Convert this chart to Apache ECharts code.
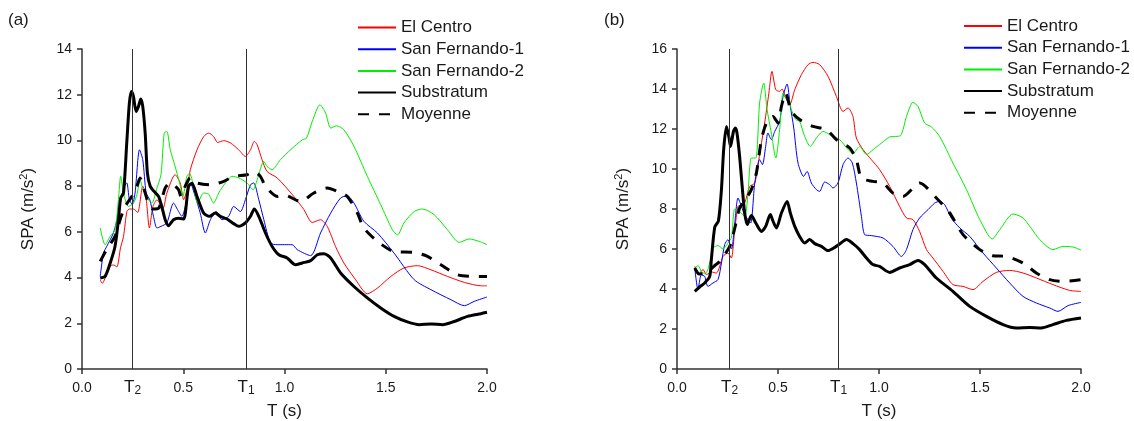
<!DOCTYPE html>
<html>
<head>
<meta charset="utf-8">
<script src="https://cdn.jsdelivr.net/npm/echarts@6/dist/echarts.min.js"></script>
<style>
html,body{margin:0;padding:0;background:#fff;}
#chart{width:1134px;height:421px;}
</style>
</head>
<body>
<div id="chart"></div>
<script>
// ---------- Data (T in s, SPA in m/s²) ----------
const seriesNames = ['El Centro', 'San Fernando-1', 'San Fernando-2', 'Substratum', 'Moyenne'];
const xTicks = ['0.0', '0.5', '1.0', '1.5', '2.0'];
const periodsA = { T2: 0.251, T1: 0.81 };
const periodsB = { T2: 0.261, T1: 0.80 };

// Panel (a)
const a_elCentro = [[0.09,3.9],[0.10,3.75],[0.12,4.1],[0.14,4.5],[0.155,4.55],[0.172,4.47],[0.19,5.3],[0.205,5.8],[0.222,6.9],[0.235,7.0],[0.254,7.0],[0.275,6.85],[0.30,8.0],[0.315,7.6],[0.333,6.17],[0.35,7.1],[0.37,7.4],[0.40,7.04],[0.419,7.7],[0.46,8.5],[0.485,8.14],[0.502,7.41],[0.518,7.84],[0.535,8.72],[0.568,9.59],[0.601,10.17],[0.625,10.32],[0.65,10.17],[0.67,9.91],[0.70,9.99],[0.733,9.89],[0.774,9.59],[0.807,9.3],[0.832,9.59],[0.851,9.96],[0.865,9.81],[0.889,9.16],[0.914,8.64],[0.964,8.36],[1.046,7.55],[1.096,6.97],[1.137,6.41],[1.178,6.53],[1.211,6.24],[1.252,5.36],[1.293,4.64],[1.351,3.91],[1.409,3.29],[1.459,3.54],[1.525,4.05],[1.59,4.42],[1.657,4.52],[1.723,4.34],[1.805,4.05],[1.888,3.79],[1.97,3.64],[2.0,3.64]];
const a_sanFernando1 = [[0.09,4.05],[0.106,5.07],[0.122,5.36],[0.155,5.95],[0.18,6.82],[0.205,7.92],[0.221,8.14],[0.234,7.41],[0.248,7.2],[0.262,7.7],[0.284,9.59],[0.30,9.16],[0.317,7.7],[0.335,7.4],[0.353,6.68],[0.37,6.17],[0.39,6.24],[0.419,6.39],[0.452,7.26],[0.472,6.97],[0.493,6.68],[0.518,7.41],[0.535,8.14],[0.559,7.55],[0.584,6.82],[0.609,5.95],[0.634,6.53],[0.663,6.89],[0.691,6.53],[0.724,6.68],[0.749,7.11],[0.782,6.89],[0.807,7.41],[0.832,8.06],[0.848,8.14],[0.873,7.41],[0.898,6.53],[0.931,5.51],[0.964,5.44],[1.0,5.44],[1.038,5.44],[1.063,5.22],[1.129,4.96],[1.178,5.95],[1.228,6.82],[1.277,7.48],[1.31,7.58],[1.343,7.26],[1.392,6.46],[1.459,5.95],[1.541,5.07],[1.64,3.91],[1.723,3.47],[1.822,3.03],[1.888,2.77],[1.937,2.96],[2.0,3.15]];
const a_sanFernando2 = [[0.09,6.17],[0.114,5.44],[0.139,5.8],[0.163,6.09],[0.18,7.41],[0.191,8.43],[0.205,7.7],[0.229,7.11],[0.254,7.26],[0.271,7.62],[0.287,8.28],[0.30,7.9],[0.328,7.41],[0.345,7.26],[0.37,7.92],[0.39,8.5],[0.406,10.32],[0.419,10.39],[0.436,9.59],[0.46,8.86],[0.482,8.14],[0.498,7.55],[0.518,8.43],[0.531,8.57],[0.551,7.99],[0.571,7.26],[0.601,7.7],[0.625,7.65],[0.65,7.26],[0.675,7.7],[0.708,8.14],[0.741,8.43],[0.774,8.36],[0.815,8.14],[0.845,7.84],[0.865,8.28],[0.898,9.08],[0.914,8.86],[0.939,8.72],[0.98,9.16],[1.03,9.59],[1.088,10.03],[1.109,10.1],[1.137,10.83],[1.175,11.56],[1.203,11.2],[1.228,10.54],[1.257,10.64],[1.293,10.47],[1.343,9.74],[1.409,8.43],[1.475,7.19],[1.533,6.09],[1.558,5.87],[1.59,6.39],[1.64,6.89],[1.681,7.0],[1.739,6.75],[1.805,6.09],[1.863,5.54],[1.912,5.69],[1.962,5.58],[2.0,5.44]];
const a_substratum = [[0.09,3.98],[0.114,4.05],[0.139,4.63],[0.163,5.36],[0.18,6.53],[0.191,7.48],[0.205,7.7],[0.221,9.89],[0.234,11.64],[0.244,12.14],[0.254,11.93],[0.267,11.27],[0.279,11.49],[0.29,11.81],[0.30,11.49],[0.312,10.32],[0.323,8.57],[0.337,7.99],[0.356,7.77],[0.378,7.55],[0.394,7.11],[0.411,6.53],[0.427,6.27],[0.452,6.53],[0.477,6.6],[0.502,6.56],[0.526,7.99],[0.543,8.13],[0.568,7.55],[0.601,6.82],[0.63,6.68],[0.658,6.82],[0.683,6.68],[0.716,6.56],[0.749,6.36],[0.774,6.24],[0.807,6.39],[0.832,6.68],[0.851,7.0],[0.873,6.68],[0.906,5.95],[0.939,5.36],[0.972,5.0],[1.013,4.86],[1.054,4.56],[1.088,4.64],[1.129,4.74],[1.162,5.0],[1.195,5.04],[1.228,4.86],[1.277,4.2],[1.343,3.61],[1.409,3.11],[1.475,2.67],[1.541,2.3],[1.607,2.06],[1.665,1.94],[1.723,1.97],[1.781,1.94],[1.838,2.08],[1.904,2.3],[1.97,2.42],[2.0,2.48]];
const a_moyenne = [[0.09,4.71],[0.12,5.2],[0.163,5.8],[0.188,6.53],[0.213,7.11],[0.246,7.55],[0.271,7.99],[0.287,8.36],[0.305,7.9],[0.328,7.26],[0.35,7.0],[0.38,7.05],[0.411,7.92],[0.436,8.14],[0.46,8.0],[0.477,7.84],[0.489,7.55],[0.51,8.0],[0.535,8.36],[0.568,8.14],[0.634,8.06],[0.70,8.21],[0.749,8.43],[0.815,8.5],[0.848,8.64],[0.881,8.43],[0.906,7.99],[0.964,7.55],[0.997,7.62],[1.079,7.33],[1.145,7.7],[1.211,7.92],[1.261,7.77],[1.31,7.55],[1.36,6.82],[1.392,6.17],[1.459,5.58],[1.541,5.14],[1.64,5.1],[1.706,4.93],[1.772,4.56],[1.855,4.12],[1.937,4.05],[2.0,4.05]];

// Panel (b)
const b_elCentro = [[0.088,5.13],[0.104,4.72],[0.129,4.97],[0.146,4.72],[0.17,4.85],[0.195,4.8],[0.228,5.63],[0.252,5.8],[0.269,5.55],[0.286,6.97],[0.302,8.13],[0.318,8.2],[0.335,8.3],[0.36,9.13],[0.385,9.3],[0.41,10.8],[0.434,12.3],[0.455,13.8],[0.47,14.88],[0.489,13.97],[0.508,13.88],[0.52,14.0],[0.538,13.55],[0.558,13.22],[0.583,13.97],[0.616,14.72],[0.649,15.22],[0.673,15.33],[0.706,15.22],[0.748,14.63],[0.789,13.63],[0.822,12.88],[0.847,13.05],[0.871,12.63],[0.888,11.55],[0.921,10.97],[0.962,10.47],[1.003,9.97],[1.053,9.13],[1.102,8.13],[1.136,7.55],[1.168,7.47],[1.201,6.88],[1.235,5.97],[1.267,5.55],[1.317,4.88],[1.366,4.22],[1.416,4.13],[1.465,3.97],[1.515,4.38],[1.581,4.83],[1.647,4.93],[1.713,4.8],[1.779,4.55],[1.861,4.22],[1.944,3.93],[2.0,3.88]];
const b_sanFernando1 = [[0.088,5.05],[0.104,3.97],[0.12,4.7],[0.137,4.63],[0.153,4.13],[0.178,4.3],[0.203,4.47],[0.22,5.3],[0.236,6.22],[0.252,6.47],[0.27,6.0],[0.285,7.2],[0.302,8.55],[0.319,8.13],[0.335,7.7],[0.351,7.47],[0.365,7.3],[0.385,9.3],[0.409,10.47],[0.423,10.22],[0.439,11.13],[0.45,11.8],[0.467,11.47],[0.484,11.88],[0.508,12.38],[0.525,13.63],[0.545,14.25],[0.56,13.2],[0.578,12.05],[0.599,10.3],[0.627,9.63],[0.644,9.88],[0.665,9.3],[0.69,8.97],[0.706,8.88],[0.731,9.35],[0.756,9.22],[0.772,9.05],[0.797,9.3],[0.822,10.22],[0.847,10.55],[0.868,10.3],[0.888,9.3],[0.913,7.63],[0.929,6.72],[0.962,6.67],[1.02,6.55],[1.069,6.13],[1.111,5.63],[1.136,5.97],[1.168,6.97],[1.201,7.55],[1.243,7.97],[1.276,8.3],[1.30,8.38],[1.325,8.22],[1.358,7.55],[1.40,7.05],[1.449,6.63],[1.515,5.8],[1.581,5.05],[1.647,4.3],[1.713,3.63],[1.779,3.3],[1.845,3.05],[1.886,2.88],[1.936,3.17],[2.0,3.33]];
const b_sanFernando2 = [[0.088,5.05],[0.104,5.17],[0.121,4.88],[0.14,4.75],[0.162,5.3],[0.178,6.05],[0.203,6.17],[0.228,6.0],[0.252,6.3],[0.27,6.6],[0.286,8.0],[0.31,7.88],[0.335,7.63],[0.35,8.6],[0.368,10.55],[0.39,10.55],[0.409,13.3],[0.429,14.3],[0.446,12.97],[0.467,11.8],[0.489,10.55],[0.508,11.97],[0.525,13.8],[0.538,13.55],[0.55,13.6],[0.566,12.97],[0.588,12.47],[0.607,12.38],[0.632,11.63],[0.66,11.13],[0.69,11.55],[0.723,11.88],[0.764,11.67],[0.805,11.47],[0.847,10.97],[0.871,10.77],[0.904,11.13],[0.938,10.72],[0.971,10.97],[1.003,11.22],[1.053,11.6],[1.106,11.67],[1.136,12.63],[1.168,13.33],[1.193,13.13],[1.226,12.3],[1.26,12.1],[1.30,11.63],[1.366,10.3],[1.433,8.97],[1.499,7.47],[1.561,6.5],[1.598,6.97],[1.663,7.75],[1.713,7.55],[1.796,6.47],[1.861,5.97],[1.911,6.13],[1.96,6.1],[2.0,5.95]];
const b_substratum = [[0.088,3.88],[0.112,4.1],[0.137,4.3],[0.162,4.63],[0.17,5.47],[0.187,7.1],[0.205,7.4],[0.22,8.97],[0.231,10.97],[0.245,12.13],[0.257,11.6],[0.265,11.13],[0.28,11.9],[0.289,12.05],[0.297,11.8],[0.31,10.63],[0.324,8.97],[0.335,7.8],[0.348,7.22],[0.368,7.67],[0.39,7.3],[0.418,6.88],[0.439,7.13],[0.462,7.72],[0.475,7.4],[0.492,7.05],[0.517,7.8],[0.545,8.38],[0.561,7.8],[0.583,7.13],[0.607,6.63],[0.632,6.3],[0.657,6.47],[0.682,6.27],[0.715,6.13],[0.748,5.92],[0.781,6.08],[0.805,6.25],[0.839,6.47],[0.871,6.27],[0.904,5.97],[0.938,5.55],[0.97,5.22],[1.003,5.13],[1.053,4.83],[1.102,5.05],[1.152,5.22],[1.193,5.43],[1.226,5.22],[1.284,4.55],[1.366,3.88],[1.449,3.13],[1.532,2.63],[1.614,2.22],[1.68,2.05],[1.746,2.08],[1.804,2.05],[1.861,2.22],[1.928,2.43],[2.0,2.55]];
const b_moyenne = [[0.088,5.05],[0.11,4.75],[0.153,4.88],[0.19,5.2],[0.211,5.38],[0.261,6.13],[0.285,7.0],[0.31,8.05],[0.335,8.4],[0.368,8.97],[0.393,9.8],[0.418,11.47],[0.443,12.3],[0.475,12.63],[0.50,12.3],[0.517,13.13],[0.538,13.8],[0.566,12.88],[0.607,12.47],[0.673,12.13],[0.74,11.97],[0.789,11.47],[0.855,11.05],[0.888,10.47],[0.913,9.55],[0.97,9.38],[1.02,9.3],[1.069,8.8],[1.119,8.63],[1.201,9.3],[1.284,8.55],[1.35,7.8],[1.416,6.72],[1.499,5.97],[1.564,5.66],[1.631,5.63],[1.713,5.3],[1.779,4.8],[1.845,4.47],[1.911,4.38],[2.0,4.47]];

// ---------- Styling ----------
const FONT = "'Liberation Sans', Arial, Helvetica, sans-serif";
const TXT = '#1a1a1a';
const AX = '#333';
const styles = [
  { color: '#ff0000', width: 1, type: 'solid', z: 2 },
  { color: '#0000ff', width: 1, type: 'solid', z: 2 },
  { color: '#00ee00', width: 1, type: 'solid', z: 2 },
  { color: '#000000', width: 3, type: 'solid', z: 3 },
  { color: '#000000', width: 3, type: [11, 10], z: 4 }
];

function mkSeries(idx, data, gi, marks) {
  const s = styles[idx];
  const ser = {
    type: 'line', name: seriesNames[idx], data: data,
    xAxisIndex: gi, yAxisIndex: gi,
    symbol: 'none', showSymbol: false, smooth: 0.25,
    lineStyle: { color: s.color, width: s.width, type: s.type },
    itemStyle: { color: s.color },
    z: s.z, silent: true
  };
  if (marks) {
    ser.markLine = {
      silent: true, symbol: 'none', animation: false,
      lineStyle: { color: '#333', width: 1, type: 'solid' },
      label: {
        show: true, position: 'start', distance: 8,
        fontFamily: FONT, color: TXT,
        rich: {
          t: { fontSize: 17, lineHeight: 20, fontFamily: FONT, color: TXT },
          s: { fontSize: 12, lineHeight: 8, verticalAlign: 'bottom', fontFamily: FONT, color: TXT }
        }
      },
      data: [
        { xAxis: marks.T2, label: { formatter: '{t|T}{s|2}' } },
        { xAxis: marks.T1, label: { formatter: '{t|T}{s|1}' } }
      ]
    };
  }
  return ser;
}

function xAxisCfg(gi) {
  return {
    type: 'value', gridIndex: gi, min: 0, max: 2, interval: 0.5,
    name: 'T (s)', nameLocation: 'middle', nameGap: 34,
    nameTextStyle: { fontSize: 17, color: TXT, fontFamily: FONT },
    axisLine: { show: true, onZero: false, lineStyle: { color: AX, width: 1.5 } },
    axisTick: { show: true, inside: false, length: 5, lineStyle: { color: AX, width: 1.5 } },
    axisLabel: { fontSize: 14, color: TXT, fontFamily: FONT, margin: 12,
      formatter: v => xTicks[Math.round(v / 0.5)] },
    splitLine: { show: false }
  };
}
function yAxisCfg(gi, max) {
  return {
    type: 'value', gridIndex: gi, min: 0, max: max, interval: 2,
    name: 'SPA (m/s{sup|2})', nameLocation: 'middle', nameGap: 44, nameRotate: 90,
    nameTextStyle: { fontSize: 17, color: TXT, fontFamily: FONT, lineHeight: 20,
      rich: { sup: { fontSize: 11, lineHeight: 10, verticalAlign: 'top', color: TXT, fontFamily: FONT } } },
    axisLine: { show: true, lineStyle: { color: AX, width: 1.5 } },
    axisTick: { show: true, inside: false, length: 5, lineStyle: { color: AX, width: 1.5 } },
    axisLabel: { fontSize: 14, color: TXT, fontFamily: FONT, margin: 10 },
    splitLine: { show: false }
  };
}
function legendCfg(left, top) {
  return {
    orient: 'vertical', left: left, top: top, padding: 0,
    itemWidth: 38, itemHeight: 17, itemGap: 4.7,
    data: seriesNames,
    selectedMode: false,
    itemStyle: { opacity: 0 },
    textStyle: { fontSize: 17, color: TXT, fontFamily: FONT, lineHeight: 17 }
  };
}

const option = {
  animation: false,
  backgroundColor: '#fff',
  title: [
    { text: '(a)', left: 8, top: 12, padding: 0, textStyle: { fontSize: 17, fontWeight: 'normal', color: TXT, fontFamily: FONT } },
    { text: '(b)', left: 604, top: 12, padding: 0, textStyle: { fontSize: 17, fontWeight: 'normal', color: TXT, fontFamily: FONT } }
  ],
  legend: [legendCfg(357, 19), legendCfg(963, 17.5)],
  grid: [
    { left: 82, top: 49, width: 405, height: 320, containLabel: false, outerBoundsMode: 'none' },
    { left: 677, top: 49, width: 404, height: 320, containLabel: false, outerBoundsMode: 'none' }
  ],
  xAxis: [xAxisCfg(0), xAxisCfg(1)],
  yAxis: [yAxisCfg(0, 14), yAxisCfg(1, 16)],
  series: [
    mkSeries(0, a_elCentro, 0),
    mkSeries(1, a_sanFernando1, 0),
    mkSeries(2, a_sanFernando2, 0),
    mkSeries(3, a_substratum, 0, periodsA),
    mkSeries(4, a_moyenne, 0),
    mkSeries(0, b_elCentro, 1),
    mkSeries(1, b_sanFernando1, 1),
    mkSeries(2, b_sanFernando2, 1),
    mkSeries(3, b_substratum, 1, periodsB),
    mkSeries(4, b_moyenne, 1)
  ]
};

const chart = echarts.init(document.getElementById('chart'), null, { renderer: 'canvas' });
chart.setOption(option);
</script>
</body>
</html>
